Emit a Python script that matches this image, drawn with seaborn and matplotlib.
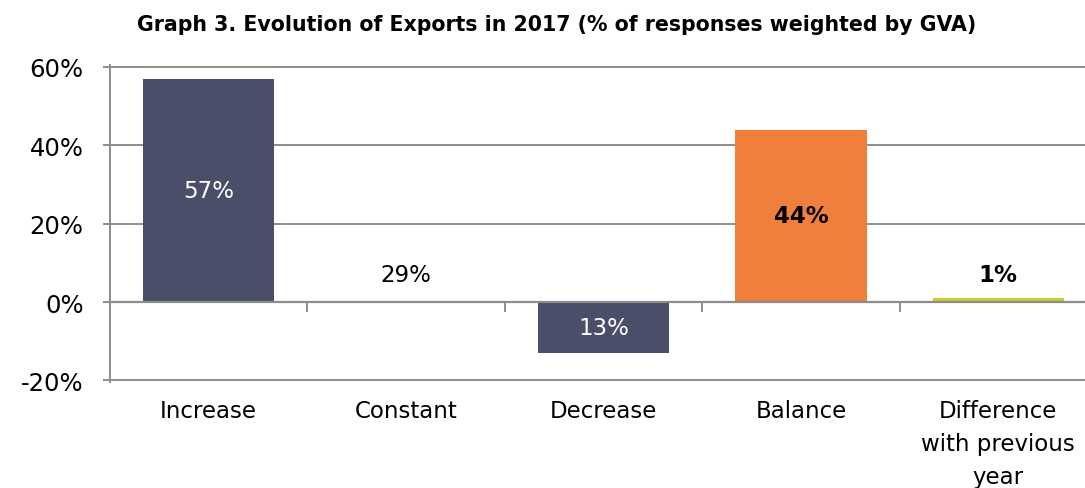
import matplotlib
matplotlib.use("Agg")
import matplotlib.pyplot as plt
import seaborn as sns
import pandas as pd
from matplotlib.ticker import FixedLocator, FuncFormatter

# Survey results: evolution of exports in 2017
categories = ["Increase", "Constant", "Decrease", "Balance", "Difference\nwith previous\nyear"]
values = [57, 29, -13, 44, 1]
value_labels = ["57%", "29%", "13%", "44%", "1%"]
bar_colors = ["#4A4E69", "#FFFFFF", "#4A4E69", "#F07F3C", "#C8CB2C"]
label_colors = ["white", "black", "white", "black", "black"]
label_weights = ["normal", "normal", "normal", "bold", "bold"]
label_y = [28.5, 7, -6.5, 22, 7]
y_ticks = [-20, 0, 20, 40, 60]
title = "Graph 3. Evolution of Exports in 2017 (% of responses weighted by GVA)"

sns.set_theme(style="white")
plt.rcParams["font.family"] = ["DejaVu Sans"]

df = pd.DataFrame({"category": categories, "value": values})

fig = plt.figure(figsize=(10.85, 4.89), dpi=100)
ax = fig.add_axes([0.1014, 0.216, 0.9097, 0.649])

sns.barplot(data=df, x="category", y="value", hue="category",
            palette=bar_colors, legend=False, width=0.665,
            saturation=1, linewidth=0, ax=ax, zorder=3)

# the "Constant" share is reported as a label only, its bar stays hidden
ax.patches[1].set_alpha(0)

ax.set_xlim(-0.5, 4.5)
ax.set_ylim(-20.5, 60.5)
ax.yaxis.set_major_locator(FixedLocator(y_ticks))
ax.yaxis.set_major_formatter(FuncFormatter(lambda v, p: f"{v:.0f}%"))
ax.grid(axis="y", color="#8C8C8C", linewidth=1.4, zorder=0)
ax.grid(axis="x", visible=False)
ax.set_axisbelow(True)

for s in ["top", "right"]:
    ax.spines[s].set_visible(False)
ax.spines["left"].set_color("#8C8C8C")
ax.spines["left"].set_linewidth(1.4)
ax.spines["bottom"].set_position(("data", 0))
ax.spines["bottom"].set_color("#8C8C8C")
ax.spines["bottom"].set_linewidth(1.6)
ax.spines["bottom"].set_zorder(4)

ax.tick_params(axis="y", which="major", left=True, length=5, width=1.4,
               color="#8C8C8C", labelsize=17.5, labelcolor="black", pad=14)
ax.set_xticks([i + 0.5 for i in range(4)], minor=True)
ax.tick_params(axis="x", which="minor", bottom=True, length=7, width=1.4,
               color="#8C8C8C", direction="out")
ax.tick_params(axis="x", which="major", bottom=False, length=0,
               labelsize=16.5, labelcolor="black", pad=70)
for t in ax.get_xticklabels():
    t.set_multialignment("center")
    t.set_linespacing(1.55)

ax.set_xlabel("")
ax.set_ylabel("")

for i, (lab, y, c, w) in enumerate(zip(value_labels, label_y, label_colors, label_weights)):
    ax.text(i, y, lab, ha="center", va="center", fontsize=16.5,
            color=c, fontweight=w, zorder=5)

fig.text(0.513, 0.948, title, ha="center", va="center",
         fontsize=14.8, fontweight="bold", color="black")

fig.savefig("out.png", dpi=100, facecolor="white")
